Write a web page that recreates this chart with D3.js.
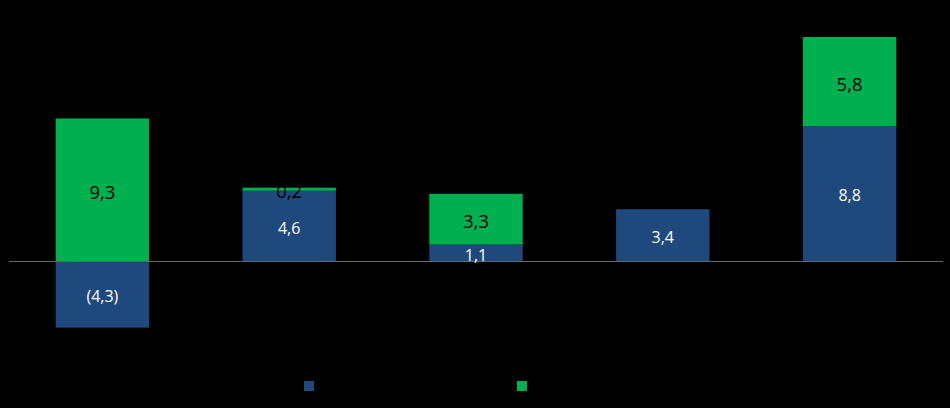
<!DOCTYPE html>
<html><head><meta charset="utf-8">
<script src="https://cdn.jsdelivr.net/npm/d3@7"></script>
<style>html,body{margin:0;padding:0;background:#000;}svg{display:block;}</style>
</head><body>
<script>
const categories = ["A","B","C","D","E"];
const seriesNames = ["Serie 1","Serie 2"];
const blueValues = [-4.3, 4.6, 1.1, 3.4, 8.8];
const greenValues = [9.3, 0.2, 3.3, 0, 5.8];
const blueLabels = ["(4,3)","4,6","1,1","3,4","8,8"];
const greenLabels = ["9,3","0,2","3,3","","5,8"];

const W = 950, H = 408;
const svg = d3.select("body").append("svg").attr("width", W).attr("height", H);
svg.append("rect").attr("width", W).attr("height", H).attr("fill", "#000");

const x = d3.scaleBand().domain(categories).range([9, 943]).paddingInner(0.5).paddingOuter(0.25);
const y = d3.scaleLinear().domain([-5, 16]).range([261.5 + 5 * 15.38, 261.5 - 16 * 15.38]);

const blue = "#1F497D", green = "#00B050";

const segs = [];
categories.forEach((c, i) => {
  const b = blueValues[i], g = greenValues[i];
  let b0, b1;
  if (b >= 0) { b0 = 0; b1 = b; } else { b0 = b; b1 = 0; }
  segs.push({c, y0: b0, y1: b1, color: blue, label: blueLabels[i], text: "#fff"});
  const gb = b >= 0 ? b : 0;
  if (g > 0) segs.push({c, y0: gb, y1: gb + g, color: green, label: greenLabels[i], text: "#000"});
});

svg.selectAll("rect.seg").data(segs).join("rect")
  .attr("class", "seg")
  .attr("x", d => x(d.c))
  .attr("width", x.bandwidth())
  .attr("y", d => y(d.y1))
  .attr("height", d => y(d.y0) - y(d.y1))
  .attr("fill", d => d.color);

svg.append("line")
  .attr("x1", 9).attr("x2", 943)
  .attr("y1", y(0)).attr("y2", y(0))
  .attr("stroke", "#666666").attr("stroke-width", 1.2);

svg.selectAll("text.lab").data(segs).join("text")
  .attr("class", "lab")
  .attr("x", d => x(d.c) + x.bandwidth() / 2)
  .attr("y", d => (y(d.y0) + y(d.y1)) / 2 + 1.5)
  .attr("text-anchor", "middle")
  .attr("dominant-baseline", "central")
  .attr("font-family", "'Open Sans', 'Liberation Sans', sans-serif")
  .attr("font-size", d => d.text === "#000" ? 18.5 : 16)
  .attr("fill", d => d.text)
  .text(d => d.label);

const legendX = [304, 517];
svg.selectAll("rect.leg").data(seriesNames).join("rect")
  .attr("class", "leg")
  .attr("x", (d, i) => legendX[i])
  .attr("y", 381)
  .attr("width", 10).attr("height", 10)
  .attr("fill", (d, i) => i === 0 ? blue : green);
</script>
</body></html>
